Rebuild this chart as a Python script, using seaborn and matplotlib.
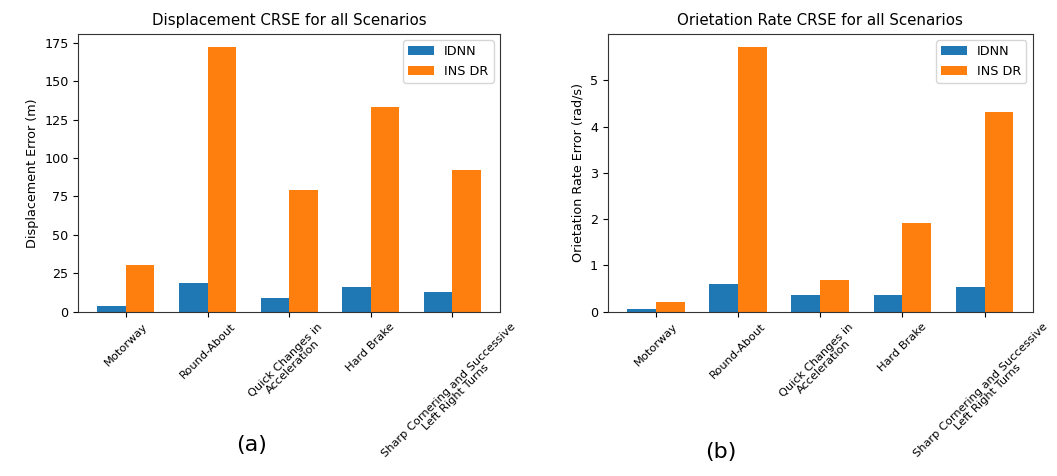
import numpy as np
import pandas as pd
import matplotlib
matplotlib.use("Agg")
import matplotlib.pyplot as plt
import seaborn as sns

scenarios = ["Motorway", "Round-About", "Quick Changes in\nAcceleration",
             "Hard Brake", "Sharp Cornering and Successive\nLeft Right Turns"]
methods = ["IDNN", "INS DR"]

disp_idnn = [3.9, 18.7, 8.7, 16.3, 12.8]
disp_insdr = [30.2, 172.2, 79.2, 133.2, 92.4]

orient_idnn = [0.065, 0.61, 0.37, 0.37, 0.54]
orient_insdr = [0.22, 5.72, 0.68, 1.92, 4.31]

colors = ["#1f77b4", "#ff7f0e"]


def frame(idnn, insdr):
    return pd.DataFrame({
        "Scenario": scenarios * 2,
        "Method": [methods[0]] * len(scenarios) + [methods[1]] * len(scenarios),
        "Value": list(idnn) + list(insdr),
    })


fig = plt.figure(figsize=(10.57, 4.76), dpi=100)
ax1 = fig.add_axes([0.074, 0.345, 0.399, 0.584])
ax2 = fig.add_axes([0.575, 0.345, 0.402, 0.584])

panels = [
    (ax1, frame(disp_idnn, disp_insdr), "Displacement CRSE for all Scenarios",
     "Displacement Error (m)"),
    (ax2, frame(orient_idnn, orient_insdr), "Orietation Rate CRSE for all Scenarios",
     "Orietation Rate Error (rad/s)"),
]

for ax, df, title, ylabel in panels:
    sns.barplot(data=df, x="Scenario", y="Value", hue="Method", order=scenarios,
                hue_order=methods, palette=colors, saturation=1, width=0.7,
                errorbar=None, ax=ax)
    n = len(scenarios)
    pad = 0.05 * (n - 1 + 0.7)
    ax.set_xlim(-0.35 - pad, n - 1 + 0.35 + pad)
    ax.set_ylim(0, df["Value"].max() * 1.05)
    ax.set_title(title, fontsize=10.8)
    ax.set_ylabel(ylabel, fontsize=9.2)
    ax.set_xlabel("")
    ax.tick_params(axis="both", labelsize=9.2, direction="out")
    ax.set_xticks(range(n))
    ax.set_xticklabels(scenarios, rotation=45, ha="center", fontsize=8.2,
                       linespacing=1.0)
    for s in ax.spines.values():
        s.set_visible(True)
        s.set_color("#333333")
        s.set_linewidth(0.8)
    ax.grid(False)
    ax.legend(loc="upper right", fontsize=9.2, frameon=True)

ax1.set_yticks(np.arange(0, 176, 25))
ax2.set_yticks(np.arange(0, 6, 1))

fig.text(0.238, 0.065, "(a)", fontsize=16, ha="center", va="center")
fig.text(0.682, 0.050, "(b)", fontsize=16, ha="center", va="center")

fig.savefig("out.png", dpi=100, facecolor="white")
